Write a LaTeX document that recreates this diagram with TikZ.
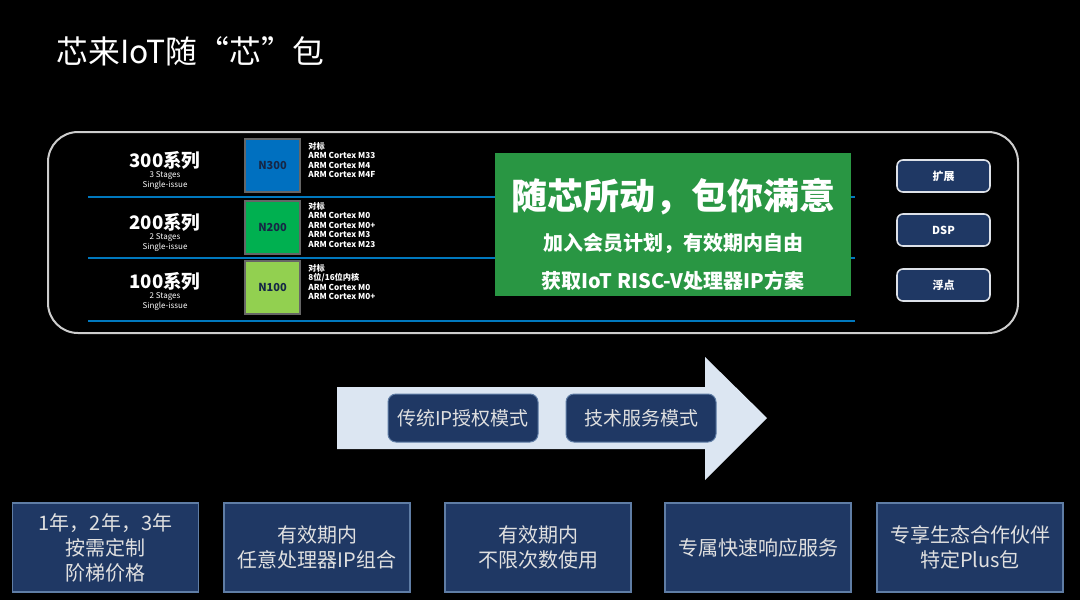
\documentclass[tikz,border=0pt]{standalone}
\usepackage{fontspec}
\setmainfont{Noto Sans CJK SC}
\usetikzlibrary{positioning}
\definecolor{navy}{RGB}{31,56,100}
\definecolor{navyedge}{RGB}{95,125,165}
\definecolor{rowblue}{RGB}{0,120,190}
\definecolor{promogreen}{RGB}{41,150,67}
\definecolor{coreblue}{RGB}{0,112,192}
\definecolor{coregreen}{RGB}{0,176,80}
\definecolor{corelime}{RGB}{146,208,80}
\definecolor{arrowfill}{RGB}{220,230,242}
\definecolor{paneledge}{RGB}{205,205,205}
\tikzset{
  corebox/.style={minimum width=27.5pt, minimum height=26.5pt, inner sep=0pt, draw=black!60, line width=0.6pt, text=navy!70!black, font=\fontsize{5.5}{6}\selectfont\bfseries},
  spec/.style={anchor=north west, inner sep=0pt, align=left, text=white, font=\fontsize{4.1}{4.75}\selectfont\bfseries},
  optbtn/.style={minimum width=46.5pt, minimum height=16pt, inner sep=0pt, rounded corners=3pt, fill=navy, draw=white!85!navy, line width=0.8pt, text=white, font=\fontsize{5.5}{6}\selectfont\bfseries},
  modebox/.style={minimum width=75pt, minimum height=24pt, inner sep=0pt, rounded corners=4pt, fill=navy, draw=navyedge, line width=0.5pt, text=white!88!black, font=\fontsize{9.5}{11}\selectfont},
  offerbox/.style={minimum width=93pt, minimum height=44.5pt, inner sep=0pt, align=center, fill=navy, draw=navyedge, line width=0.6pt, text=white!88!black, font=\fontsize{10}{12.5}\selectfont}
}
\begin{document}
\begin{tikzpicture}[x=0.5pt, y=-0.5pt]
			%%%%% START %%%%%
			\fill[black] (0, 0) rectangle (1080, 600);
			\node[anchor=west, inner sep=0pt, text=white, font=\fontsize{15.9}{18}\selectfont] (title) at (56, 51) {芯来IoT随“芯”包};
			
			\draw[paneledge, line width=1pt, rounded corners=15pt] (48, 132) rectangle (1018, 333);
			
			\draw[rowblue, line width=1pt] (88, 197) -- (855, 197);
			\draw[rowblue, line width=1pt] (88, 258) -- (855, 258);
			\draw[rowblue, line width=1pt] (88, 321) -- (855, 321);
			
			\foreach \y/\n/\s in {160/300/3, 222/200/2, 281/100/2}{
				\node[text=white, font=\fontsize{9.3}{10}\selectfont\bfseries] (series\n) at (165, \y) {\n 系列};
				\node[text=white, inner sep=0pt, align=center, font=\fontsize{4}{5}\selectfont] (stage\n) at (165, \y+21) {\s\ Stages\\Single-issue};
			}
			
			\node[corebox, fill=coreblue] (n300) at (272.5, 165.5) {N300};
			\node[corebox, fill=coregreen] (n200) at (272.5, 227.5) {N200};
			\node[corebox, fill=corelime] (n100) at (272.5, 287.5) {N100};
			
			\node[spec] (spec300) at (308, 142) {对标\\ARM Cortex M33\\ARM Cortex M4\\ARM Cortex M4F};
			\node[spec] (spec200) at (308, 202) {对标\\ARM Cortex M0\\ARM Cortex M0+\\ARM Cortex M3\\ARM Cortex M23};
			\node[spec] (spec100) at (308, 264) {对标\\8位/16位内核\\ARM Cortex M0\\ARM Cortex M0+};
			
			\fill[promogreen] (495, 153) rectangle (851, 296);
			\node[text=white, font=\fontsize{18}{20}\selectfont\bfseries] (slogan) at (673, 197) {随芯所动，包你满意};
			\node[text=white, font=\fontsize{10}{12}\selectfont\bfseries] (join) at (673, 243) {加入会员计划，有效期内自由};
			\node[text=white, font=\fontsize{10}{12}\selectfont\bfseries] (obtain) at (673, 281) {获取IoT RISC-V处理器IP方案};
			
			\node[optbtn] (ext) at (943.5, 176) {扩展};
			\node[optbtn] (dsp) at (943.5, 230) {DSP};
			\node[optbtn] (fpu) at (943.5, 285) {浮点};
			
			\fill[arrowfill] (337, 387) -- (705, 387) -- (705, 357) -- (767, 418) -- (705, 480) -- (705, 449) -- (337, 449) -- cycle;
			\node[modebox] (ipmode) at (463, 418) {传统IP授权模式};
			\node[modebox, right=13.5pt of ipmode] (svcmode) {技术服务模式};
			
			\node[offerbox] (price) at (105.5, 547.5) {1年，2年，3年\\按需定制\\阶梯价格};
			\node[offerbox] (combo) at (317, 547.5) {有效期内\\任意处理器IP组合};
			\node[offerbox] (unlimited) at (538, 547.5) {有效期内\\不限次数使用};
			\node[offerbox] (support) at (758, 547.5) {专属快速响应服务};
			\node[offerbox] (partner) at (970, 547.5) {专享生态合作伙伴\\特定Plus包};
			%%%%% END %%%%%
\end{tikzpicture}
\end{document}
